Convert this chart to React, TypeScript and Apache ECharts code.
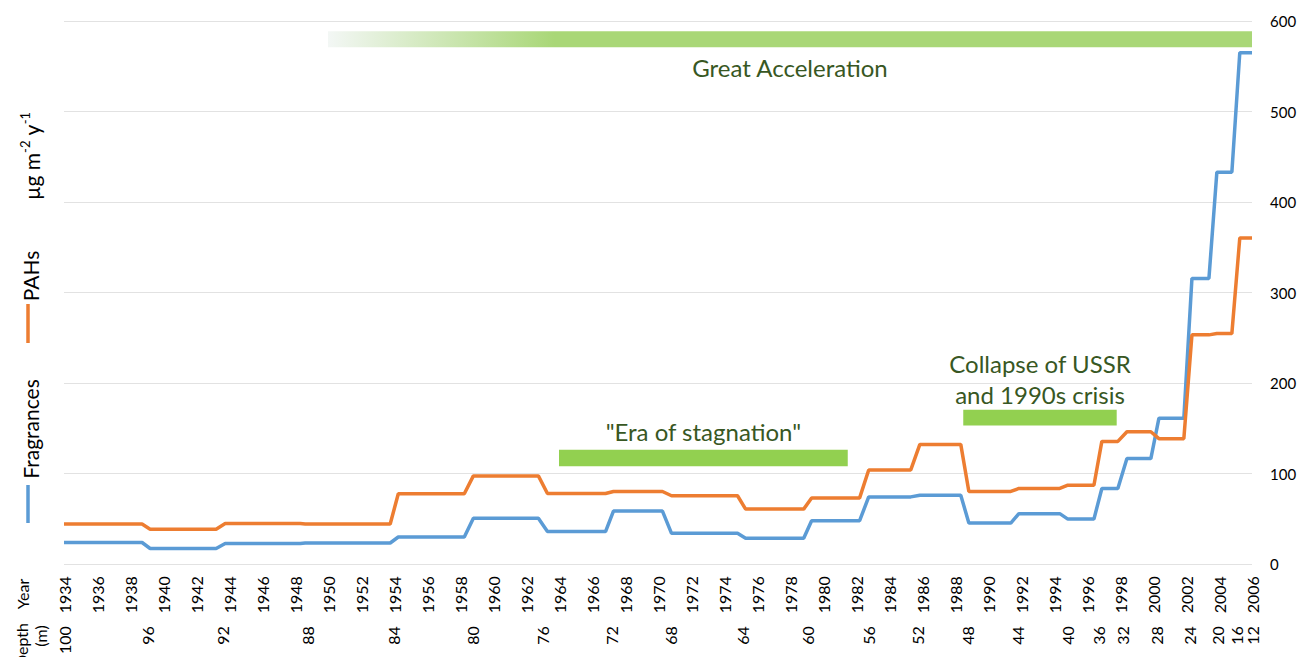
import React, { useEffect, useRef } from 'react';
import * as echarts from 'echarts';

// Segment boundaries (calendar years)
const segStart = [1934, 1939.22, 1943.77, 1948.62, 1954.26, 1958.81, 1963.3, 1967.3, 1970.82, 1975.31, 1979.31, 1982.77, 1985.87, 1988.84, 1991.87, 1994.84, 1996.9, 1998.42, 2000.36, 2002.36, 2003.87, 2005.26];
const segEnd = [1938.73, 1943.22, 1948.32, 1953.77, 1958.26, 1962.75, 1966.82, 1970.27, 1974.82, 1978.83, 1982.22, 1985.32, 1988.35, 1991.38, 1994.35, 1996.42, 1997.87, 1999.87, 2001.87, 2003.39, 2004.78, 2006];

// Fluxes, µg m-2 y-1
const pahs = [44.3, 38.5, 44.8, 44.3, 77.8, 97.5, 78.1, 80.3, 75.6, 60.8, 73.2, 104.1, 132.3, 80.3, 83.6, 87.2, 135.6, 146.3, 138.6, 253.3, 254.8, 360.4];
const fragrances = [23.9, 17.3, 22.8, 23.4, 30.0, 50.7, 36.0, 58.6, 34.1, 28.6, 48.0, 74.3, 76.2, 45.4, 55.8, 49.8, 83.6, 116.6, 161.3, 315.6, 433.0, 565.0];

// Depth scale (m) and the year each depth label sits at
const depthLabels = ['100', '96', '92', '88', '84', '80', '76', '72', '68', '64', '60', '56', '52', '48', '44', '40', '36', '32', '28', '24', '20', '16', '12'];
const depthYears = [1934, 1939.09, 1943.58, 1948.73, 1953.94, 1958.73, 1963.03, 1967.21, 1970.73, 1975.15, 1979.09, 1982.73, 1985.7, 1988.73, 1991.76, 1994.79, 1996.67, 1998.18, 2000.24, 2002.24, 2003.88, 2005.09, 2006];

// Historical periods
const periodNames = ['Great Acceleration', '"Era of stagnation"', 'Collapse of USSR\nand 1990s crisis'];
const periodFrom = [1950, 1964, 1988.5];
const periodTo = [2006.1, 1981.5, 1997.8];
const periodLow = [571.1, 108.2, 153.3];
const periodHigh = [588.7, 126.5, 170.6];

function stepPoints(values: number[]) {
  const pts: number[][] = [];
  values.forEach((v, i) => {
    pts.push([segStart[i], v]);
    pts.push([segEnd[i], v]);
  });
  return pts;
}

const FONT = 'Lato';
const TXT = '#000000';
const GREEN_TXT = '#385723';

function depthAxis(values: number[]) {
  return {
    type: 'value',
    min: 1934,
    max: 2006,
    position: 'bottom',
    axisLine: { show: false },
    axisTick: { show: false },
    splitLine: { show: false },
    axisLabel: {
      rotate: 90,
      margin: 62,
      fontSize: 16,
      color: TXT,
      fontFamily: FONT,
      showMinLabel: true,
      showMaxLabel: true,
      customValues: values,
      formatter: (v: number) => {
        const i = depthYears.findIndex((d) => Math.abs(d - v) < 1e-6);
        return i >= 0 ? depthLabels[i] : '';
      },
    },
  };
}

export default function App() {
  const ref = useRef<HTMLDivElement>(null);

  useEffect(() => {
    if (!ref.current) return;
    const chart = echarts.init(ref.current, undefined, { renderer: 'svg' });

    const labelPos = ['bottom', 'top', 'top'];
    const labelDist = [8, 6, 0];
    const barColors: any[] = [
      new echarts.graphic.LinearGradient(0, 0, 1, 0, [
        { offset: 0, color: '#f3f7f5' },
        { offset: 0.245, color: '#a9d777' },
        { offset: 1, color: '#a9d777' },
      ]),
      '#92d050',
      '#92d050',
    ];

    const areas = periodNames.map((name, i) => [
      {
        name,
        xAxis: periodFrom[i],
        yAxis: periodHigh[i],
        itemStyle: { color: barColors[i] },
        label: {
          show: true,
          position: labelPos[i],
          distance: labelDist[i],
          formatter: name,
          color: GREEN_TXT,
          fontFamily: FONT,
          fontSize: 24,
          lineHeight: i === 2 ? 31 : 24,
          align: 'center',
        },
      },
      { xAxis: periodTo[i], yAxis: periodLow[i] },
    ]);

    const option: any = {
      animation: false,
      textStyle: { fontFamily: FONT },
      grid: { left: 64, right: 50, top: 21, bottom: 91 },
      xAxis: [
        {
          type: 'value',
          min: 1934,
          max: 2006,
          interval: 2,
          position: 'bottom',
          axisLine: { show: false },
          axisTick: { show: false },
          splitLine: { show: false },
          axisLabel: {
            rotate: 90,
            margin: 12,
            fontSize: 16,
            color: TXT,
            fontFamily: FONT,
            showMinLabel: true,
            showMaxLabel: true,
            formatter: (v: number) => String(v),
          },
        },
        depthAxis(depthYears.slice(0, depthYears.length - 1)),
        depthAxis(depthYears.slice(depthYears.length - 1)),
      ],
      yAxis: {
        type: 'value',
        position: 'right',
        min: 0,
        max: 600,
        interval: 100,
        axisLine: { show: false },
        axisTick: { show: false },
        splitLine: { lineStyle: { color: '#e2e2e2', width: 1 } },
        axisLabel: { margin: 18, fontSize: 15, color: TXT, fontFamily: FONT },
      },
      series: [
        {
          name: 'Fragrances',
          type: 'line',
          xAxisIndex: 0,
          data: stepPoints(fragrances),
          showSymbol: false,
          symbol: 'none',
          lineStyle: { color: '#5b9bd5', width: 3.5 },
          itemStyle: { color: '#5b9bd5' },
          markArea: { silent: true, data: areas },
        },
        {
          name: 'PAHs',
          type: 'line',
          xAxisIndex: 0,
          data: stepPoints(pahs),
          showSymbol: false,
          symbol: 'none',
          lineStyle: { color: '#ed7d31', width: 3.5 },
          itemStyle: { color: '#ed7d31' },
        },
      ],
      graphic: [
        {
          type: 'text',
          x: 31,
          y: 156,
          rotation: Math.PI / 2,
          style: {
            text: '{n|\u00b5g m}{s|-2}{n| y}{s|-1}',
            rich: {
              n: { fontSize: 21, fontFamily: FONT, fill: TXT, lineHeight: 26, verticalAlign: 'middle' },
              s: { fontSize: 13, fontFamily: FONT, fill: TXT, lineHeight: 15, verticalAlign: 'top' },
            },
            align: 'center',
            verticalAlign: 'middle',
          },
        },
        {
          type: 'text',
          x: 30,
          y: 276,
          rotation: Math.PI / 2,
          style: { text: 'PAHs', fontSize: 21, fontFamily: FONT, fill: TXT, align: 'center', verticalAlign: 'middle' },
        },
        {
          type: 'line',
          shape: { x1: 28, y1: 304, x2: 28, y2: 343 },
          style: { stroke: '#ed7d31', lineWidth: 3.5 },
        },
        {
          type: 'text',
          x: 30,
          y: 429,
          rotation: Math.PI / 2,
          style: { text: 'Fragrances', fontSize: 21, fontFamily: FONT, fill: TXT, align: 'center', verticalAlign: 'middle' },
        },
        {
          type: 'line',
          shape: { x1: 28, y1: 485, x2: 28, y2: 523 },
          style: { stroke: '#5b9bd5', lineWidth: 3.5 },
        },
        {
          type: 'text',
          x: 22,
          y: 594,
          rotation: Math.PI / 2,
          style: { text: 'Year', fontSize: 16, fontFamily: FONT, fill: TXT, align: 'center', verticalAlign: 'middle' },
        },
        {
          type: 'text',
          x: 21,
          y: 623,
          rotation: Math.PI / 2,
          style: { text: 'Depth', fontSize: 16, fontFamily: FONT, fill: TXT, align: 'right', verticalAlign: 'middle' },
        },
        {
          type: 'text',
          x: 40,
          y: 636,
          rotation: Math.PI / 2,
          style: { text: '(m)', fontSize: 16, fontFamily: FONT, fill: TXT, align: 'center', verticalAlign: 'middle' },
        },
      ],
    };

    chart.setOption(option);
    return () => chart.dispose();
  }, []);

  return (
    <div
      ref={ref}
      style={{ position: 'fixed', left: 0, top: 0, width: 1302, height: 657, background: '#ffffff' }}
    />
  );
}
